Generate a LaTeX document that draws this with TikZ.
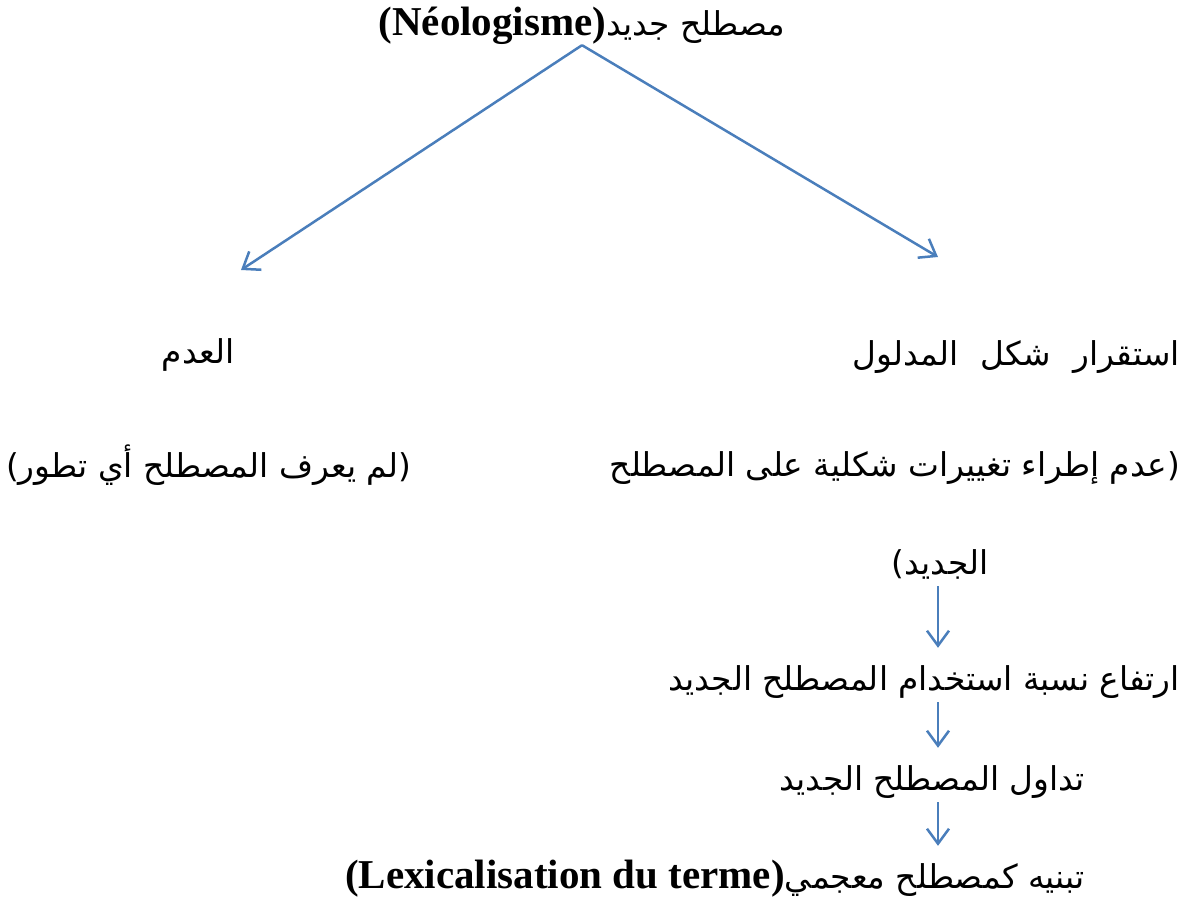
\documentclass[tikz,border=0pt]{standalone}
\usepackage{fontspec}
\setmainfont{Liberation Serif}
\newfontfamily\arabicfont[Script=Arabic,Scale=0.8]{DejaVu Sans}
\TeXXeTstate=1
\usetikzlibrary{arrows.meta}
\definecolor{linkblue}{RGB}{74,126,187}
\newcommand{\artxt}[1]{\hbox{\arabicfont\beginR #1\endR}}

\begin{document}
\begin{tikzpicture}
  [x=1pt,y=-1pt,
   every node/.style={inner sep=0pt,text height=30pt,text depth=10pt,font=\fontsize{41}{49}\selectfont},
   link/.style={draw=linkblue,line width=2.5pt,shorten <=2pt,shorten >=12pt,
     -{Straight Barb[length=15pt,width=22pt,line width=2.5pt]}}]
  \useasboundingbox (0,0) rectangle (1187,910);
  \node[anchor=base] (neo) at (582,35) {\hbox{\textbf{(Néologisme)}}\artxt{مصطلح جديد}};
  \node[anchor=base] (none) at (198,363) {\artxt{العدم}};
  \node[anchor=base west] (nodev) at (6,477) {\artxt{(لم يعرف المصطلح أي تطور)}};
  \node[anchor=base east] (stab) at (1180,365) {\artxt{استقرار\hspace{12pt} شكل\hspace{12pt} المدلول}};
  \node[anchor=base east] (nochg) at (1180,476) {\artxt{(عدم إطراء تغييرات شكلية على المصطلح}};
  \node[anchor=base] (jadid) at (940,574) {\artxt{الجديد)}};
  \node[anchor=base east] (rise) at (1180,690) {\artxt{ارتفاع نسبة استخدام المصطلح الجديد}};
  \node[anchor=base east] (circ) at (1085,790) {\artxt{تداول المصطلح الجديد}};
  \node[anchor=base east] (lex) at (1085,888) {\hbox{\textbf{(Lexicalisation du terme)}}\artxt{تبنيه كمصطلح معجمي}};
  \coordinate (tipL) at (241,270);
  \coordinate (tipR) at (938,257);
  \coordinate (spine) at (938,0);
  \draw[link,shorten <=0pt,shorten >=0pt] (neo.south) -- (tipL);
  \draw[link,shorten <=0pt,shorten >=0pt] (neo.south) -- (tipR);
  \foreach \from/\to in {jadid/rise,rise/circ,circ/lex}
    \draw[link] (spine |- \from.south) -- (spine |- \to.north);
\end{tikzpicture}
\end{document}
